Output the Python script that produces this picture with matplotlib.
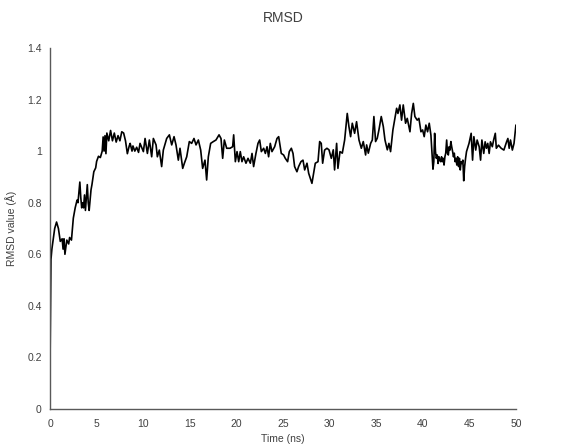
import numpy as np
import matplotlib
matplotlib.use('Agg')
import matplotlib.pyplot as plt

plt.rcParams['font.family'] = ['Liberation Sans', 'DejaVu Sans']

# simulation time (ns) and backbone RMSD (Å)
time_ns = [
    0.0, 0.1, 0.2, 0.5, 0.7, 0.9, 1.1, 1.3, 1.4, 1.5, 1.6, 1.8, 2.0, 2.1, 2.3, 2.5, 2.7, 2.9, 3.0,
    3.2, 3.3, 3.4, 3.5, 3.6, 3.7, 3.8, 4.0, 4.1, 4.2, 4.4, 4.5, 4.7, 4.9, 5.0, 5.2, 5.4, 5.6, 5.7,
    5.8, 5.9, 6.0, 6.1, 6.3, 6.5, 6.7, 6.9, 7.1, 7.3, 7.5, 7.7, 7.9, 8.1, 8.3, 8.5, 8.6, 8.8, 8.9,
    9.1, 9.3, 9.5,
    9.66, 10.02, 10.2, 10.45, 10.66, 10.91, 11.09, 11.38, 11.52, 11.73, 11.98, 12.16, 12.52, 12.81,
    13.06, 13.31, 13.52, 13.77, 13.95, 14.24, 14.42, 14.67, 14.95, 15.2, 15.45, 15.67, 15.92, 16.17,
    16.38, 16.63, 16.81, 16.99, 17.24, 17.53, 17.81, 18.14, 18.35, 18.53, 18.71, 18.96, 19.32, 19.6,
    19.71, 19.89, 20.07, 20.25, 20.42, 20.6, 20.78, 21.03, 21.25, 21.5, 21.68, 21.85, 22.1, 22.32,
    22.5, 22.68, 22.93, 23.11, 23.29, 23.46, 23.64, 23.82, 24.11, 24.36, 24.54, 24.82, 25.07, 25.25,
    25.5, 25.68, 25.9, 26.08, 26.25, 26.5, 26.68, 26.93, 27.15, 27.33, 27.58, 27.76, 27.93, 28.11,
    28.29, 28.47, 28.76, 28.94, 29.11, 29.26, 29.47, 29.72,
    29.94, 30.19, 30.4, 30.54, 30.76, 30.9, 31.12, 31.37, 31.62, 31.9, 32.08, 32.26, 32.44, 32.69,
    32.9, 33.16, 33.41, 33.62, 33.87, 33.98, 34.16, 34.41, 34.59, 34.76, 34.94, 35.12, 35.3, 35.55,
    35.77, 35.95, 36.2, 36.37, 36.55, 36.8, 36.98, 37.2, 37.34, 37.55, 37.73, 37.91, 38.16, 38.34,
    38.63, 38.81, 38.99, 39.16, 39.41, 39.59,
    39.81, 39.99, 40.16, 40.34, 40.52, 40.7, 40.88, 41.0, 41.1, 41.19, 41.28, 41.37, 41.46, 41.56,
    41.65, 41.74, 41.83, 41.93, 42.02, 42.1, 42.2, 42.29, 42.38, 42.47, 42.57, 42.66, 42.75, 42.84,
    42.93, 43.02, 43.11, 43.21, 43.3, 43.39, 43.48, 43.57, 43.66, 43.75, 43.85, 43.94, 44.03, 44.12,
    44.21, 44.31, 44.4, 44.5, 44.6, 44.7,
    44.97, 45.2, 45.35, 45.49, 45.69, 45.84, 46.06, 46.21, 46.35, 46.55, 46.7, 46.84, 46.98, 47.13,
    47.27, 47.47, 47.61, 47.79, 47.9, 48.13, 48.42, 48.71, 49.0, 49.14, 49.28, 49.42, 49.62, 49.8,
    50.0,
]
rmsd = [
    0.17, 0.58, 0.62, 0.70, 0.725, 0.70, 0.65, 0.66, 0.62, 0.66, 0.60, 0.655, 0.64, 0.665, 0.655,
    0.74, 0.78, 0.81, 0.80, 0.88, 0.82, 0.78, 0.80, 0.78, 0.83, 0.77, 0.87, 0.80, 0.77, 0.85, 0.87,
    0.92, 0.935, 0.96, 0.98, 0.975, 1.0, 1.055, 1.0, 1.06, 0.99, 1.07, 1.04, 1.08, 1.04, 1.07,
    1.035, 1.06, 1.04, 1.075, 1.07, 1.04, 0.99, 1.02, 1.03, 1.0, 1.02, 1.0, 1.015, 0.995,
    1.03, 0.998, 1.049, 0.991, 1.043, 0.978, 1.049, 1.024, 0.978, 1.004, 0.94, 1.004, 1.049, 1.063,
    1.024, 1.056, 1.024, 0.965, 1.011, 0.933, 0.953, 0.978, 1.037, 1.03, 1.049, 1.024, 1.043, 1.004,
    0.933, 0.965, 0.888, 0.978, 1.03, 1.037, 1.043, 1.063, 1.049, 0.972, 1.043, 1.011, 1.011, 1.017,
    1.063, 0.959, 0.998, 0.959, 0.998, 0.959, 0.978, 0.953, 0.972, 0.953, 0.991, 0.94, 0.991, 1.03,
    1.043, 0.998, 1.011, 0.991, 1.017, 0.978, 1.03, 0.998, 1.017, 1.049, 1.056, 0.991, 0.985, 0.972,
    0.959, 0.998, 1.011, 0.991, 0.94, 0.92, 0.94, 0.959, 0.965, 0.927, 0.953, 0.914, 0.895, 0.875,
    0.914, 0.953, 0.959, 1.037, 1.03, 0.953, 1.004, 1.011,
    1.005, 0.972, 1.005, 0.927, 1.03, 0.933, 0.998, 0.992, 1.043, 1.146, 1.095, 1.056, 1.108, 1.069,
    1.114, 1.043, 1.011, 1.037, 0.985, 1.024, 0.992, 1.03, 1.043, 1.134, 1.037, 1.05, 1.082, 1.134,
    1.095, 1.043, 1.005, 1.03, 0.998, 1.082, 1.12, 1.166, 1.146, 1.179, 1.12, 1.179, 1.108, 1.127,
    1.075, 1.146, 1.185, 1.134, 1.12, 1.127,
    1.075, 1.082, 1.056, 1.101, 1.075, 1.108, 1.062, 0.992, 0.93, 0.959, 1.069, 0.998, 0.972, 0.985,
    0.952, 0.978, 0.965, 0.959, 0.978, 0.959, 0.972, 0.946, 0.978, 0.992, 1.043, 0.992, 0.985, 1.017,
    1.004, 1.037, 1.017, 0.998, 0.978, 0.992, 0.959, 0.972, 0.946, 0.978, 0.94, 0.972, 0.927, 0.959,
    0.952, 0.965, 0.885, 0.94, 0.972, 0.998,
    1.03, 1.069, 0.965, 1.056, 1.004, 1.043, 1.017, 0.965, 1.043, 0.991, 1.036, 1.011, 1.03, 0.991,
    1.036, 1.017, 1.043, 1.069, 1.011, 1.023, 1.011, 1.004, 1.036, 1.049, 1.011, 1.043, 1.004, 1.03,
    1.10,
]

x_ticks = np.arange(0, 51, 5)
y_ticks = [0, 0.2, 0.4, 0.6, 0.8, 1, 1.2, 1.4]
y_tick_labels = ['0', '0.2', '0.4', '0.6', '0.8', '1', '1.2', '1.4']

fig = plt.figure(figsize=(5.64, 4.48), dpi=100)
ax = fig.add_axes([0.0887, 0.087, 0.826, 0.806])

ax.plot(time_ns, rmsd, color='black', linewidth=1.2)

ax.set_xlim(0, 50)
ax.set_ylim(0, 1.4)
ax.set_xticks(x_ticks)
ax.set_yticks(y_ticks)
ax.set_yticklabels(y_tick_labels)
ax.tick_params(length=0, labelsize=7.5, colors='#404040')
ax.tick_params(axis='x', pad=7)
ax.tick_params(axis='y', pad=6)

for side in ['top', 'right']:
    ax.spines[side].set_visible(False)
for side in ['left', 'bottom']:
    ax.spines[side].set_color('#595959')
    ax.spines[side].set_linewidth(1.0)

ax.set_title('RMSD', fontsize=10, color='#404040', pad=19)
ax.set_xlabel('Time (ns)', fontsize=7.5, color='#404040', labelpad=4)
ax.set_ylabel('RMSD value (Å)', fontsize=7.5, color='#404040', labelpad=7)

fig.savefig('out.png', dpi=100)
